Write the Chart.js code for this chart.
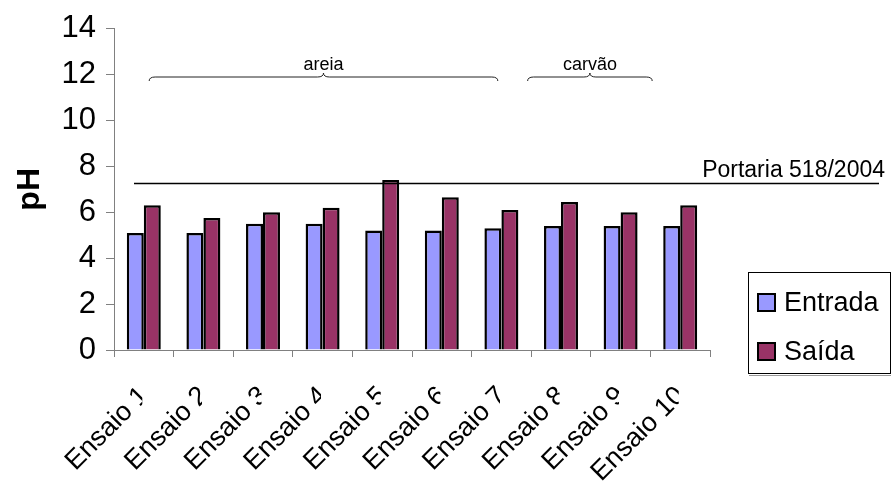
<!DOCTYPE html>
<html>
<head>
<meta charset="utf-8">
<script src="https://cdn.jsdelivr.net/npm/chart.js@4.4.1/dist/chart.umd.min.js"></script>
<style>
  html, body { margin: 0; padding: 0; background: #ffffff; }
  #wrap { width: 892px; height: 483px; }
</style>
</head>
<body>
<div id="wrap"><canvas id="c" width="892" height="483"></canvas></div>
<script>
// pH at the inlet and outlet of each filtration test
const categories = ['Ensaio 1', 'Ensaio 2', 'Ensaio 3', 'Ensaio 4', 'Ensaio 5',
                    'Ensaio 6', 'Ensaio 7', 'Ensaio 8', 'Ensaio 9', 'Ensaio 10'];
const entrada = [5.1, 5.1, 5.5, 5.5, 5.2, 5.2, 5.3, 5.4, 5.4, 5.4];
const saida   = [6.3, 5.75, 6.0, 6.2, 7.4, 6.65, 6.1, 6.45, 6.0, 6.3];
const yTicks  = [0, 2, 4, 6, 8, 10, 12, 14];

// regulatory reference level
const limitValue = 7.25;
const limitLabel = 'Portaria 518/2004';

// filter media groups, spans given in category units
const groupNames = ['areia', 'carvão'];
const groupFrom  = [0.09, 6.44];
const groupTo    = [5.94, 8.53];

const FONT = "'Liberation Sans', Arial, sans-serif";

const extrasPlugin = {
  id: 'extras',
  afterDatasetsDraw(chart) {
    const { ctx, chartArea } = chart;
    const xs = chart.scales.x, ys = chart.scales.y;
    const step = xs.getPixelForValue(1) - xs.getPixelForValue(0);
    const x0 = xs.getPixelForValue(0);

    // reference line and its label
    const yl = ys.getPixelForValue(limitValue);
    ctx.save();
    ctx.strokeStyle = '#000';
    ctx.lineWidth = 1.5;
    ctx.beginPath();
    ctx.moveTo(chartArea.left + 20, yl);
    ctx.lineTo(879, yl);
    ctx.stroke();
    ctx.fillStyle = '#000';
    ctx.font = '23px ' + FONT;
    ctx.textAlign = 'right';
    ctx.textBaseline = 'alphabetic';
    ctx.fillText(limitLabel, 885, yl - 7);
    ctx.restore();

    // curly braces over the media groups
    ctx.save();
    ctx.strokeStyle = '#222';
    ctx.lineWidth = 1;
    const y0 = 77;
    groupNames.forEach((name, i) => {
      const a = x0 + groupFrom[i] * step;
      const b = x0 + groupTo[i] * step;
      const m = (a + b) / 2;
      ctx.beginPath();
      ctx.moveTo(a, y0 + 4);
      ctx.quadraticCurveTo(a, y0, a + 6, y0);
      ctx.lineTo(m - 6, y0);
      ctx.quadraticCurveTo(m, y0, m, y0 - 4);
      ctx.quadraticCurveTo(m, y0, m + 6, y0);
      ctx.lineTo(b - 6, y0);
      ctx.quadraticCurveTo(b, y0, b, y0 + 4);
      ctx.stroke();
      ctx.fillStyle = '#000';
      ctx.font = '18px ' + FONT;
      ctx.textAlign = 'center';
      ctx.textBaseline = 'alphabetic';
      ctx.fillText(name, m, 70);
    });
    ctx.restore();
  },
  afterDraw(chart) {
    const { ctx } = chart;
    const xs = chart.scales.x;

    // rotated category labels, each cut at its own tick position
    categories.forEach((lab, i) => {
      const cx = xs.getPixelForTick(i);
      ctx.save();
      ctx.beginPath();
      ctx.rect(0, 352, cx - 1.5, 483 - 352);
      ctx.clip();
      ctx.translate(cx + 6, 397);
      ctx.rotate(-Math.PI / 4);
      ctx.fillStyle = '#000';
      ctx.font = '27px ' + FONT;
      ctx.textAlign = 'right';
      ctx.textBaseline = 'alphabetic';
      ctx.fillText(lab, 0, 0);
      ctx.restore();
    });

    // legend box
    const ds = chart.data.datasets;
    ctx.save();
    ctx.fillStyle = '#fff';
    ctx.fillRect(748, 272, 143, 102);
    ctx.strokeStyle = '#000';
    ctx.lineWidth = 1;
    ctx.strokeRect(748.5, 272.5, 142, 101);
    ctx.strokeStyle = '#999';
    ctx.beginPath();
    ctx.moveTo(749, 375.5);
    ctx.lineTo(891, 375.5);
    ctx.stroke();
    const baselines = [311, 360];
    ds.forEach((d, i) => {
      const by = baselines[i];
      ctx.fillStyle = d.backgroundColor;
      ctx.fillRect(758, by - 17, 17, 17);
      ctx.strokeStyle = '#000';
      ctx.lineWidth = 2;
      ctx.strokeRect(758, by - 17, 17, 17);
      ctx.fillStyle = '#000';
      ctx.font = '27px ' + FONT;
      ctx.textAlign = 'left';
      ctx.textBaseline = 'alphabetic';
      ctx.fillText(d.label, 784, by);
    });
    ctx.restore();
  }
};

new Chart(document.getElementById('c'), {
  type: 'bar',
  data: {
    labels: categories,
    datasets: [
      { label: 'Entrada', data: entrada, backgroundColor: '#9999FF',
        borderColor: '#000', borderWidth: 2.5 },
      { label: 'Saída', data: saida, backgroundColor: '#993366',
        borderColor: '#000', borderWidth: 2.5 }
    ]
  },
  options: {
    responsive: false,
    animation: false,
    devicePixelRatio: 1,
    categoryPercentage: 0.57,
    barPercentage: 1.0,
    layout: { padding: { top: 25, right: 182, left: 0, bottom: 0 } },
    plugins: { legend: { display: false }, tooltip: { enabled: false } },
    scales: {
      x: {
        grid: { drawOnChartArea: false, drawTicks: true, tickLength: 7,
                color: '#808080', offset: true },
        border: { color: '#808080', width: 1 },
        ticks: { display: false },
        afterFit(s) { s.height = 133; }
      },
      y: {
        min: 0, max: 14,
        afterBuildTicks(s) { s.ticks = yTicks.map(v => ({ value: v })); },
        ticks: { color: '#000', padding: 10, font: { family: FONT, size: 31 } },
        grid: { drawOnChartArea: false, drawTicks: true, tickLength: 8, color: '#808080' },
        border: { color: '#808080', width: 1 },
        title: { display: true, text: 'pH', color: '#000',
                 font: { family: FONT, size: 32, weight: 'bold', lineHeight: 1.2 },
                 padding: { top: 11, bottom: 0 } },
        afterFit(s) { s.width = 114; }
      }
    }
  },
  plugins: [extrasPlugin]
});
</script>
</body>
</html>
